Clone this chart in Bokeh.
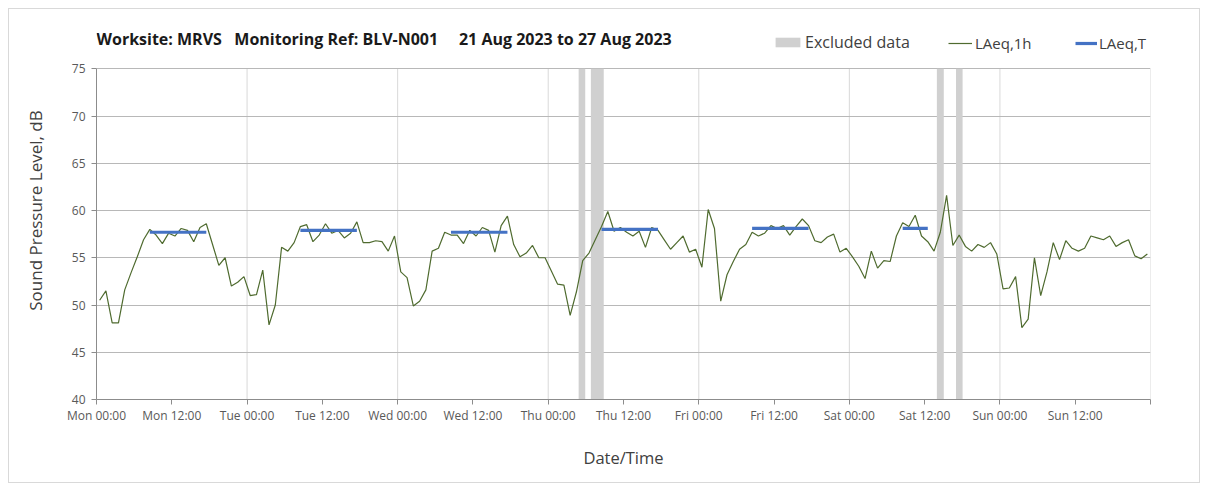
import numpy as np
from bokeh.plotting import figure
from bokeh.models import FixedTicker, Label, Legend, LegendItem, Range1d
from bokeh.embed import file_html
from bokeh.resources import INLINE

# ---------------- data ----------------
days = ["Mon", "Tue", "Wed", "Thu", "Fri", "Sat", "Sun"]

# hourly LAeq,1h (dB), Mon 00:00 .. Sun 23:00
laeq_1h = [
    # Mon
    50.5, 51.5, 48.1, 48.1, 51.6, 53.4, 55.1, 56.9, 58.0, 57.4, 56.5, 57.6,
    57.3, 58.1, 57.9, 56.7, 58.2, 58.6, 56.4, 54.2, 55.0, 52.0, 52.4, 53.0,
    # Tue
    51.0, 51.1, 53.7, 47.9, 50.0, 56.1, 55.7, 56.6, 58.3, 58.5, 56.7, 57.4,
    58.6, 57.6, 57.9, 57.1, 57.6, 58.8, 56.6, 56.6, 56.8, 56.7, 55.7, 57.3,
    # Wed
    53.5, 52.9, 49.9, 50.4, 51.6, 55.7, 56.0, 57.7, 57.4, 57.4, 56.5, 57.9,
    57.3, 58.2, 57.9, 55.6, 58.4, 59.4, 56.4, 55.1, 55.5, 56.3, 55.0, 55.0,
    # Thu
    53.6, 52.2, 52.1, 48.9, 51.4, 54.7, 55.5, 56.9, 58.3, 59.9, 57.8, 58.2,
    57.7, 57.3, 57.8, 56.1, 58.2, 57.9, 56.9, 55.9, 56.6, 57.3, 55.6, 55.9,
    # Fri
    54.0, 60.1, 58.1, 50.4, 53.2, 54.6, 55.9, 56.4, 57.7, 57.3, 57.6, 58.4,
    58.1, 58.4, 57.4, 58.3, 59.1, 58.4, 56.8, 56.6, 57.2, 57.5, 55.6, 56.0,
    # Sat
    55.1, 54.1, 52.8, 55.7, 53.9, 54.7, 54.6, 57.3, 58.7, 58.3, 59.5, 57.3,
    56.7, 55.7, 57.7, 61.6, 56.3, 57.4, 56.2, 55.7, 56.4, 56.1, 56.6, 55.4,
    # Sun
    51.7, 51.8, 53.0, 47.6, 48.5, 55.0, 51.0, 53.5, 56.6, 54.8, 56.8, 56.0,
    55.7, 56.0, 57.3, 57.1, 56.9, 57.3, 56.2, 56.6, 56.9, 55.2, 54.9, 55.4,
]

# LAeq,T daytime periods (hours since Mon 00:00)
period_start = [8, 32, 56, 80, 104, 128]
period_end = [18, 42, 66, 90, 114, 133]
laeq_t = [57.7, 57.9, 57.7, 58.0, 58.1, 58.1]

# excluded data periods (hours since Mon 00:00)
excl_start = [76.85, 78.8, 133.95, 137.0]
excl_end = [77.9, 80.85, 135.05, 138.05]

y_ticks = [40, 45, 50, 55, 60, 65, 70, 75]

title_parts = ["Worksite: MRVS", "Monitoring Ref: BLV-N001",
               "21 Aug 2023 to 27 Aug 2023"]

# ---------------- figure ----------------
FONT = "Open Sans"
TXT = "#404040"
NB = "\u00a0"
n_hours = len(days) * 24
hours = np.arange(len(laeq_1h)) + 0.5
y_lo, y_hi = y_ticks[0], y_ticks[-1]

# the frame is extended upwards (to y_hi + 5) so the title/legend row
# is drawn inside the plot area; axis/grids are bounded to 40..75
p = figure(width=1192, height=475, output_backend="svg", toolbar_location=None,
           x_range=Range1d(0, n_hours), y_range=Range1d(y_lo, y_hi + 5),
           min_border_left=87, min_border_right=51, min_border_top=12,
           min_border_bottom=85)
p.outline_line_color = None
p.background_fill_color = "white"
p.border_fill_color = "white"
p.styles = {"margin": "8px", "border": "1px solid #d9d9d9"}

# vertical day gridlines (bounded to the axis range)
day_lines = list(range(24, n_hours + 1, 24))
p.segment(x0=day_lines, y0=[y_lo] * len(day_lines), x1=day_lines,
          y1=[y_hi] * len(day_lines), line_color="#d9d9d9", line_width=1,
          level="underlay")

# excluded data bands
r_ex = p.quad(left=excl_start, right=excl_end, bottom=y_lo, top=y_hi,
              fill_color="#d0d0d0", line_color=None)

# hourly line
r_1h = p.line(hours, laeq_1h, line_color="#4f6b2f", line_width=1.2)

# LAeq,T segments
x0 = [s + 0.5 for s in period_start]
x1 = [e - 0.5 for e in period_end]
r_t = p.segment(x0=x0, y0=laeq_t, x1=x1, y1=laeq_t, line_color="#4472c4",
                line_width=3.2)

# axes
tick_pos = list(range(0, n_hours + 1, 12))
labels = {}
for t in tick_pos:
    labels[t] = f"{days[t // 24]} {t % 24:02d}:00" if t < n_hours else ""
p.xaxis.ticker = FixedTicker(ticks=tick_pos)
p.xaxis.major_label_overrides = labels
p.yaxis.ticker = FixedTicker(ticks=y_ticks)
p.yaxis.bounds = (y_lo, y_hi)

for ax in (p.xaxis[0], p.yaxis[0]):
    ax.axis_line_color = "#8c8c8c"
    ax.major_tick_line_color = "#8c8c8c"
    ax.major_tick_out = 5
    ax.major_tick_in = 0
    ax.minor_tick_out = 0
    ax.minor_tick_in = 0
    ax.major_label_text_font = FONT
    ax.major_label_text_font_size = "12px"
    ax.major_label_text_color = "#595959"
    ax.axis_label_text_font = FONT
    ax.axis_label_text_font_style = "normal"
    ax.axis_label_text_color = TXT

p.xaxis.axis_label = "Date/Time"
p.xaxis.axis_label_text_font_size = "16.5px"
p.xaxis.axis_label_standoff = 19
p.xaxis.major_label_standoff = 2
p.yaxis.axis_label = "Sound Pressure Level, dB"
p.yaxis.axis_label_text_font_size = "17px"
p.yaxis.axis_label_standoff = 22
p.yaxis.major_label_standoff = 6

# grids
p.xgrid.visible = False
p.ygrid.ticker = FixedTicker(ticks=y_ticks[1:])
p.ygrid.grid_line_color = "#b8b8b8"
p.ygrid.grid_line_width = 1

# title row (inside extended frame)
title_text = title_parts[0] + NB * 3 + title_parts[1] + NB * 5 + title_parts[2]
p.add_layout(Label(x=0, y=361, x_units="screen", y_units="screen",
                   text=title_text, text_font=FONT, text_font_size="16px",
                   text_font_style="bold", text_color="#1a1a1a",
                   text_baseline="middle"))

# legend entries
leg_specs = [("Excluded data", r_ex, 676, 31, 2, "16px"),
             ("LAeq,1h", r_1h, 852, 24, 3, "15px"),
             ("LAeq,T", r_t, 979, 22, 2, "15px")]
for lab, rend, lx, gw, stand, fs in leg_specs:
    leg = Legend(items=[LegendItem(label=lab, renderers=[rend])],
                 location=(lx, 346), orientation="horizontal", padding=0,
                 margin=0, spacing=0, border_line_color=None,
                 background_fill_alpha=0, glyph_width=gw, glyph_height=12,
                 label_height=12, label_standoff=stand, label_text_font=FONT,
                 label_text_font_size=fs, label_text_color=TXT,
                 label_text_baseline="middle")
    p.add_layout(leg)

open("out.html", "w").write(file_html(p, INLINE))
